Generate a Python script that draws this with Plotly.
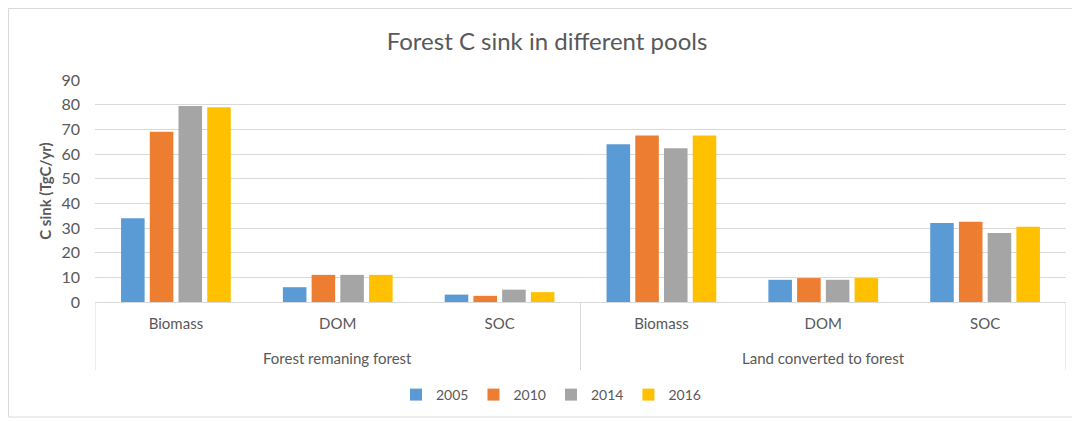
import plotly.graph_objects as go

group_names = ["Forest remaning forest", "Land converted to forest"]
groups = ["Forest remaning forest"] * 3 + ["Land converted to forest"] * 3
pools = ["Biomass", "DOM", "SOC", "Biomass", "DOM", "SOC"]
years = ["2005", "2010", "2014", "2016"]
v2005 = [34, 6, 3, 64, 9, 32]
v2010 = [69, 11, 2.5, 67.5, 9.7, 32.5]
v2014 = [79.5, 11, 5, 62.3, 9, 28]
v2016 = [79, 11, 4, 67.5, 9.7, 30.5]
series = [v2005, v2010, v2014, v2016]
colors = ["#5B9BD5", "#ED7D31", "#A5A5A5", "#FFC000"]
y_ticks = [0, 10, 20, 30, 40, 50, 60, 70, 80, 90]

cats = [g + " | " + p for g, p in zip(groups, pools)]

W, H = 1080, 421
L, R, T, B = 87, 22, 72, 127
pw, ph = W - L - R, H - T - B
base = T + ph  # pixel y of axis baseline


def py(pix):
    """figure pixel y -> paper y"""
    return (base - pix) / ph


def px(pix):
    return (pix - L) / pw


fig = go.Figure()
for yr, vals, c in zip(years, series, colors):
    fig.add_trace(go.Bar(x=cats, y=vals, name=yr, marker_color=c,
                         marker_line_width=0))

txt = "#595959"
font = "Lato, 'Open Sans', sans-serif"
fig.update_layout(
    width=W, height=H,
    margin=dict(l=L, r=R, t=T, b=B),
    paper_bgcolor="white", plot_bgcolor="white",
    font=dict(family=font, color=txt, size=15),
    bargap=0.29, bargroupgap=0.18,
    title=dict(text="Forest C sink in different pools", x=539 / W, xanchor="center",
               y=1 - 34 / H, yanchor="middle", yref="container",
               font=dict(size=24, color=txt, family=font)),
    legend=dict(orientation="h", x=px(543), xanchor="center",
                y=py(387), yanchor="middle",
                font=dict(size=14, color=txt), itemwidth=30, traceorder="normal",
                tracegroupgap=0),
    showlegend=True,
)
fig.update_yaxes(range=[0, 90], tickvals=y_ticks, gridcolor="#D9D9D9", gridwidth=1,
                 zeroline=False, showline=False, ticks="", ticklabelstandoff=14,
                 title=dict(text="<b>C sink (TgC/yr)</b>", font=dict(size=15, color=txt), standoff=6),
                 tickfont=dict(size=16, color=txt))
fig.update_xaxes(type="category", categoryorder="array", categoryarray=cats,
                 tickvals=cats, ticktext=pools,
                 showline=True, linecolor="#D9D9D9", linewidth=1, ticks="",
                 ticklabelstandoff=8, range=[-0.5, 5.5],
                 tickfont=dict(size=15, color=txt))

# group labels centred under each group
for i, g in enumerate(group_names):
    fig.add_annotation(text=g, x=cats[3 * i + 1], xref="x", y=py(350), yref="paper",
                       showarrow=False, yanchor="middle", font=dict(size=15, color=txt))

# dividers between groups
for xv in [-0.5, 2.5, 5.5]:
    fig.add_shape(type="line", xref="x", yref="paper", x0=xv, x1=xv,
                  y0=0, y1=py(362), line=dict(color="#D9D9D9", width=1))

# outer chart border
fig.add_shape(type="rect", xref="paper", yref="paper",
              x0=px(0.5), x1=px(1079), y0=py(409), y1=py(0.5),
              line=dict(color="#D9D9D9", width=1), fillcolor="rgba(0,0,0,0)", layer="below")

fig.write_html("out.html")
